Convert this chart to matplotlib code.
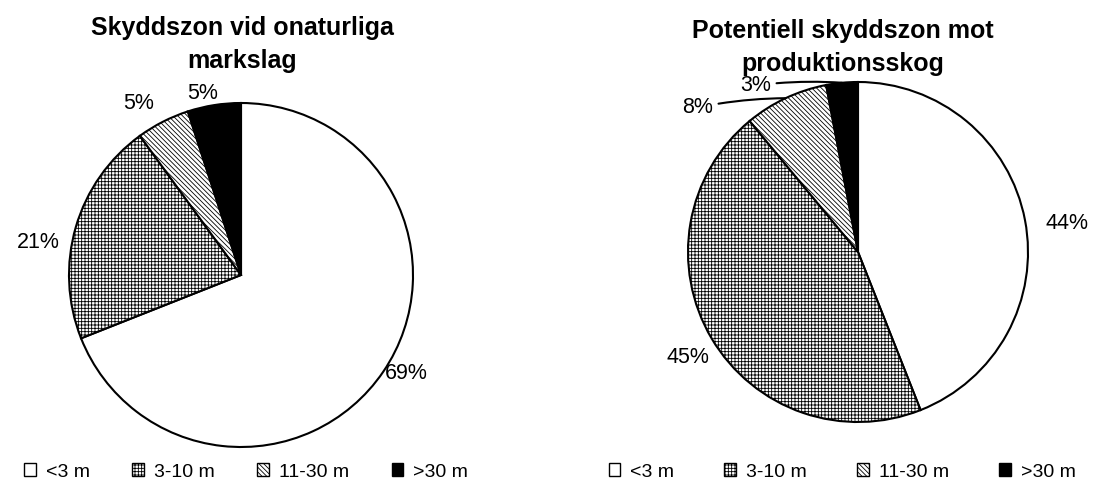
import numpy as np
import matplotlib
matplotlib.use("Agg")
import matplotlib.pyplot as plt
from matplotlib.patches import Patch

plt.rcParams['font.family'] = ['Liberation Sans', 'DejaVu Sans']
plt.rcParams['hatch.linewidth'] = 0.6

categories = ['<3 m', '3-10 m', '11-30 m', '>30 m']
onaturliga = [69, 21, 5, 5]
produktionsskog = [44, 45, 8, 3]

title_left = 'Skyddszon vid onaturliga\nmarkslag'
title_right = 'Potentiell skyddszon mot\nproduktionsskog'

faces = ['white', 'white', 'white', 'black']
hatches = ['', '+++++', '\\\\\\\\\\\\\\', '']

W, H = 1106, 487
fig = plt.figure(figsize=(W / 100, H / 100), dpi=100)


def pie_axes(cx, cy, r):
    # axes in pixel terms, pie radius 1 fills it
    ax = fig.add_axes([(cx - r) / W, (H - cy - r) / H, 2 * r / W, 2 * r / H])
    ax.set_xlim(-1, 1)
    ax.set_ylim(-1, 1)
    ax.set_aspect('equal')
    ax.axis('off')
    return ax


def draw_pie(ax, values):
    wedges, _ = ax.pie(values, startangle=90, counterclock=False, radius=1,
                       colors=faces, center=(0, 0), frame=False,
                       wedgeprops=dict(edgecolor='black', linewidth=1.5))
    for w, h in zip(wedges, hatches):
        w.set_hatch(h)
    ax.set_xlim(-1, 1)
    ax.set_ylim(-1, 1)
    return wedges


def mid_angles(values):
    vals = np.asarray(values, dtype=float)
    ends = 90 - np.cumsum(vals) / vals.sum() * 360
    starts = ends + vals / vals.sum() * 360
    return (starts + ends) / 2


def label_pie(ax, values, dist, nudge, leaders=()):
    for i, (v, a) in enumerate(zip(values, mid_angles(values))):
        t = np.radians(a + nudge[i])
        pos = (dist[i] * np.cos(t), dist[i] * np.sin(t))
        if i in leaders:
            m = np.radians(a)
            ax.annotate(f'{v}%', xy=(np.cos(m), np.sin(m)), xytext=pos,
                        ha='center', va='center', fontsize=15.5,
                        annotation_clip=False,
                        arrowprops=dict(arrowstyle='-', color='black', lw=1.5,
                                        shrinkA=2, shrinkB=0,
                                        connectionstyle='arc3,rad=-0.05'))
        else:
            ax.text(*pos, f'{v}%', ha='center', va='center', fontsize=15.5)


ax1 = pie_axes(241, 275, 172)
draw_pie(ax1, onaturliga)
label_pie(ax1, onaturliga, [1.12, 1.195, 1.16, 1.08], [3.4, 7.2, 4, 2.8])

ax2 = pie_axes(858, 252, 170)
draw_pie(ax2, produktionsskog)
label_pie(ax2, produktionsskog, [1.24, 1.18, 1.27, 1.15], [-2.9, 1.2, 22.8, 26.2],
          leaders=(2, 3))

fig.text(242 / W, 1 - 16 / H, title_left, ha='center', va='top',
         fontsize=18, fontweight='bold', linespacing=1.45)
fig.text(843 / W, 1 - 19 / H, title_right, ha='center', va='top',
         fontsize=18, fontweight='bold', linespacing=1.45)

handles = [Patch(facecolor=f, edgecolor='black', hatch=h, linewidth=1.0)
           for f, h in zip(faces, hatches)]
leg_kw = dict(ncol=4, loc='center', frameon=False, fontsize=14,
              handlelength=0.6, handleheight=0.6, handletextpad=0.5)
fig.legend(handles, categories, bbox_to_anchor=(246 / W, 1 - 472 / H),
           columnspacing=2.2, **leg_kw)
fig.legend(handles, categories, bbox_to_anchor=(842 / W, 1 - 472 / H),
           columnspacing=2.6, **leg_kw)

fig.savefig('out.png', dpi=100)
